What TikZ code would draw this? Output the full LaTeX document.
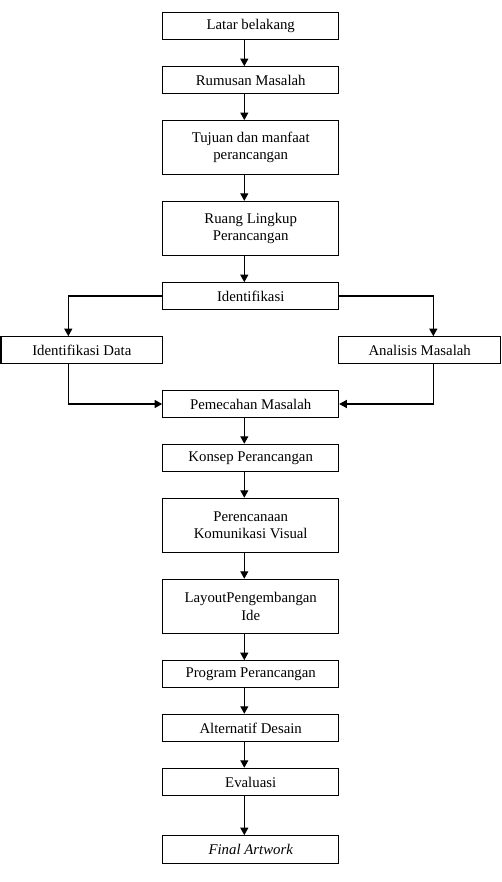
\documentclass[tikz,border=0pt]{standalone}
\usepackage{fontspec}
\setmainfont{Liberation Serif}
\usetikzlibrary{arrows.meta}
\tikzset{
  box/.style={draw, line width=1.1pt, inner sep=0pt, minimum width=176pt, align=center,
    font=\fontsize{14.8}{17.5}\selectfont},
  sbox/.style={box, minimum height=26.6pt},
  tbox/.style={box, minimum height=53.8pt},
  arr/.style={line width=1.1pt, -{Triangle[length=7.5pt,width=8pt]}}
}
\begin{document}
\begin{tikzpicture}[x=1pt,y=-1pt]
\useasboundingbox (0,0) rectangle (502,882);
\coordinate (ax) at (244.3,0);
\coordinate (lx) at (68.3,0);
\coordinate (rx) at (433.3,0);
\node[sbox] (lat) at (250.7,26) {Latar belakang};
\node[sbox] (rum) at (250.7,80) {Rumusan Masalah};
\node[tbox] (tuj) at (250.7,147.5) {Tujuan dan manfaat\\perancangan};
\node[tbox] (rua) at (250.7,228.3) {Ruang Lingkup\\Perancangan};
\node[sbox] (idf) at (250.7,296) {Identifikasi};
\node[sbox, minimum width=161.7pt] (idd) at (81.8,350) {Identifikasi Data};
\node[sbox, minimum width=162pt] (ana) at (419.7,350) {Analisis Masalah};
\node[sbox] (pem) at (250.7,404) {Pemecahan Masalah};
\node[sbox, minimum height=27.4pt] (kon) at (250.7,458) {Konsep Perancangan};
\node[tbox, minimum height=54.4pt] (per) at (250.7,525.5) {Perencanaan\\Komunikasi Visual};
\node[tbox, minimum height=54pt] (lay) at (250.7,606.3) {LayoutPengembangan\\Ide};
\node[sbox, minimum height=27pt] (pro) at (250.7,674.2) {Program Perancangan};
\node[sbox, minimum height=27.4pt] (alt) at (250.7,728) {Alternatif Desain};
\node[sbox, minimum height=27.4pt] (eva) at (250.7,782) {Evaluasi};
\node[sbox, minimum height=27.6pt] (fin) at (250.7,849.5) {\itshape Final Artwork};
\draw[arr] (lat.south -| ax) -- (rum.north -| ax);
\draw[arr] (rum.south -| ax) -- (tuj.north -| ax);
\draw[arr] (tuj.south -| ax) -- (rua.north -| ax);
\draw[arr] (rua.south -| ax) -- (idf.north -| ax);
\draw[arr] (idf.west) -| (idd.north -| lx);
\draw[arr] (idf.east) -| (ana.north -| rx);
\draw[arr] (idd.south -| lx) |- (pem.west);
\draw[arr] (ana.south -| rx) |- (pem.east);
\draw[arr] (pem.south -| ax) -- (kon.north -| ax);
\draw[arr] (kon.south -| ax) -- (per.north -| ax);
\draw[arr] (per.south -| ax) -- (lay.north -| ax);
\draw[arr] (lay.south -| ax) -- (pro.north -| ax);
\draw[arr] (pro.south -| ax) -- (alt.north -| ax);
\draw[arr] (alt.south -| ax) -- (eva.north -| ax);
\draw[arr] (eva.south -| ax) -- (fin.north -| ax);
\end{tikzpicture}
\end{document}
